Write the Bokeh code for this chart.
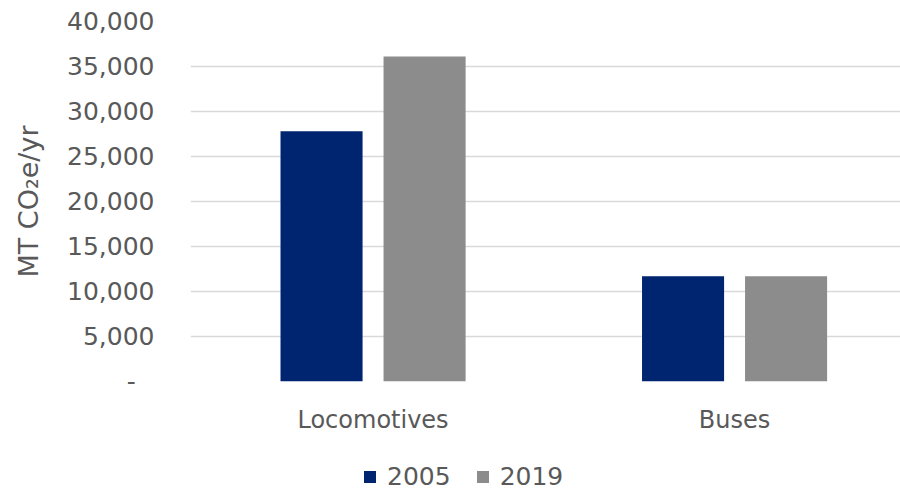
from bokeh.plotting import figure
from bokeh.layouts import column
from bokeh.models import Range1d, FixedTicker, NumeralTickFormatter, Legend, LegendItem, ColumnDataSource
from bokeh.transform import dodge
from bokeh.embed import file_html
from bokeh.resources import INLINE

categories = ["Locomotives", "Buses"]
years = ["2005", "2019"]
v2005 = [27800, 11700]
v2019 = [36100, 11700]
colors = ["#002570", "#8C8C8C"]

FONT = "DejaVu Sans"
TXT = "#595959"

xpos = [i + 0.5 for i in range(len(categories))]
src = ColumnDataSource(dict(x=xpos, cat=categories, y2005=v2005, y2019=v2019))

p = figure(width=900, height=445, output_backend="svg", toolbar_location=None,
           x_range=Range1d(-0.005, 1.959), y_range=Range1d(0, 40000),
           min_border_left=190, min_border_right=0, min_border_top=21, min_border_bottom=64)

p.vbar(x=dodge("x", -0.1425, range=p.x_range), top="y2005", width=0.227, source=src,
       fill_color=colors[0], line_color=None)
p.vbar(x=dodge("x", 0.1425, range=p.x_range), top="y2019", width=0.227, source=src,
       fill_color=colors[1], line_color=None)

p.outline_line_color = None
p.xgrid.grid_line_color = None
p.ygrid.grid_line_color = "#D9D9D9"
p.ygrid.grid_line_width = 1.5
p.ygrid.level = "underlay"

p.xaxis.ticker = FixedTicker(ticks=xpos)
p.xaxis.major_label_overrides = {x: c for x, c in zip(xpos, categories)}
p.yaxis.ticker = FixedTicker(ticks=list(range(0, 40001, 5000)))
p.yaxis.formatter = NumeralTickFormatter(format="0,0")
p.yaxis.major_label_overrides = {0: "-\u2002\u2005"}

for ax in (p.xaxis[0], p.yaxis[0]):
    ax.axis_line_color = None
    ax.major_tick_line_color = None
    ax.minor_tick_line_color = None
    ax.major_label_text_font = FONT
    ax.major_label_text_color = TXT

p.yaxis.major_label_text_font_size = "25px"
p.xaxis.major_label_text_font_size = "24px"
p.yaxis.major_label_standoff = 30
p.xaxis.major_label_standoff = 18
p.yaxis.axis_label = "MT CO\u2082e/yr"
p.yaxis.axis_label_text_font = FONT
p.yaxis.axis_label_text_font_style = "normal"
p.yaxis.axis_label_text_color = TXT
p.yaxis.axis_label_text_font_size = "27px"
p.yaxis.axis_label_standoff = 20

# legend strip (its frame is aligned with the main frame by the column layout)
lp = figure(width=900, height=46, output_backend="svg", toolbar_location=None,
            x_range=Range1d(0, 1), y_range=Range1d(0, 1),
            x_axis_type=None, y_axis_type=None, min_border=0)
lp.outline_line_color = None
lp.grid.grid_line_color = None
lr1 = lp.vbar(x=[5], top=[1], width=0.1, fill_color=colors[0], line_color=None)
lr2 = lp.vbar(x=[5], top=[1], width=0.1, fill_color=colors[1], line_color=None)
legend = Legend(items=[LegendItem(label=years[0], renderers=[lr1]),
                       LegendItem(label=years[1], renderers=[lr2])],
                orientation="horizontal", location=(172, 0),
                label_text_font=FONT, label_text_color=TXT, label_text_font_size="25px",
                glyph_width=15, glyph_height=15, label_standoff=10, spacing=24,
                border_line_color=None, background_fill_alpha=0, padding=0, margin=0)
lp.add_layout(legend)

open("out.html", "w").write(file_html(column(p, lp, spacing=0), INLINE))
